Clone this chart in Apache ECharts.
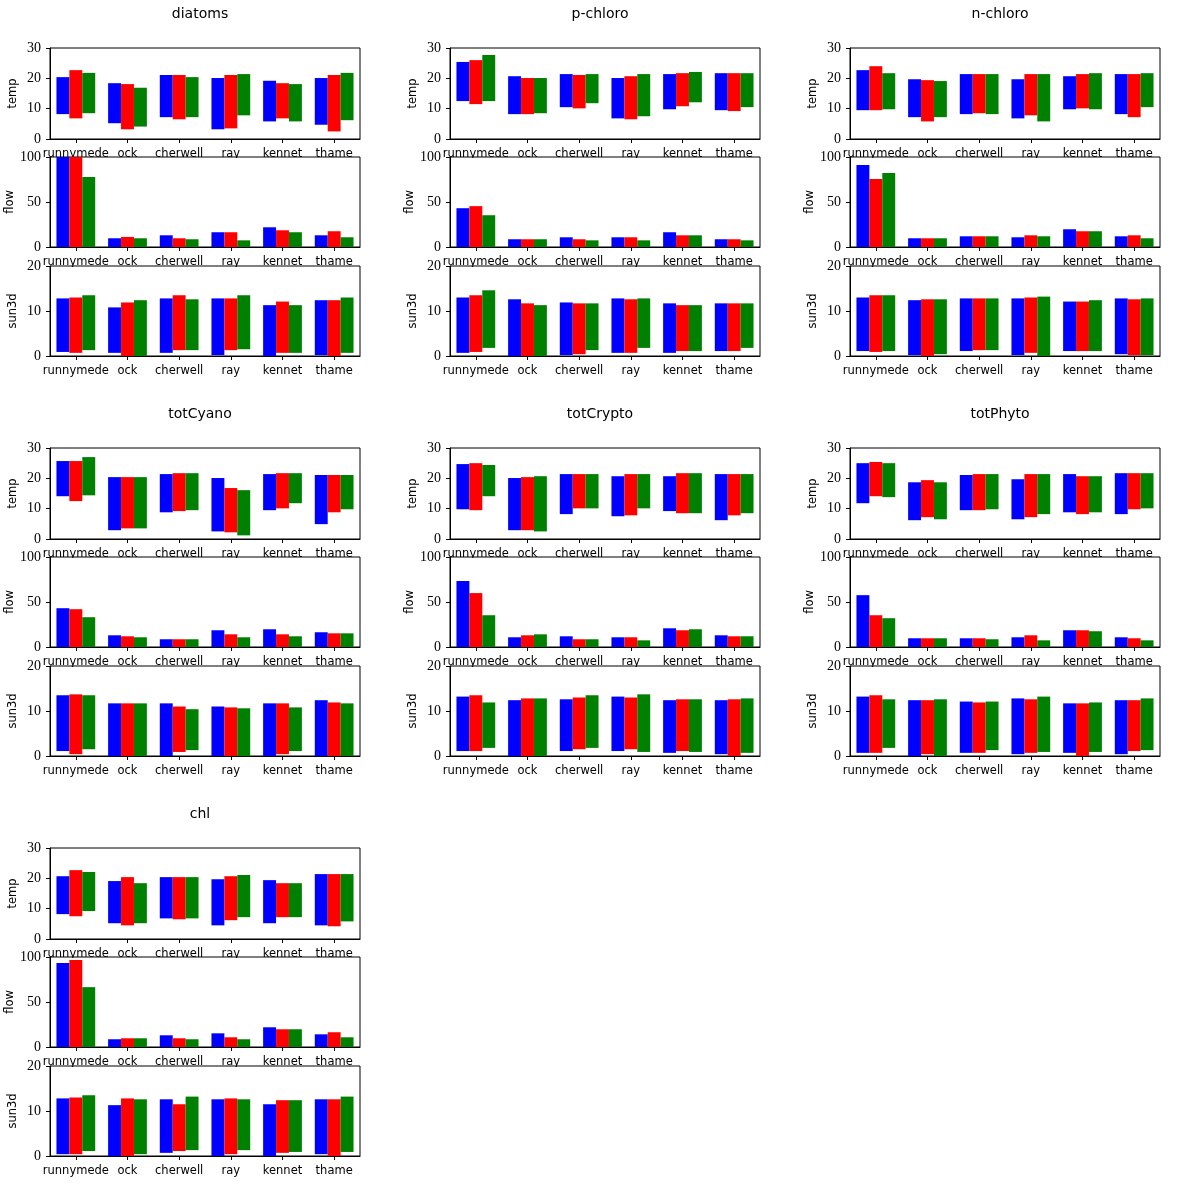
<!DOCTYPE html>
<html><head><meta charset="utf-8">
<script src="https://cdn.jsdelivr.net/npm/echarts@6/dist/echarts.min.js"></script>
<style>html,body{margin:0;padding:0;background:#fff}#c{width:1200px;height:1200px}</style>
</head><body><div id="c"></div>
<script>
const categories = ['runnymede', 'ock', 'cherwell', 'ray', 'kennet', 'thame'];
const seriesColors = ['#0000ff', '#ff0000', '#008000'];
const tempTicks = [0, 10, 20, 30];
const flowTicks = [0, 50, 100];
const sunTicks = [0, 10, 20];

// each array: [blue, red, green] over categories
const diatomsTempHigh = [[20.4,18.4,21.1,20.1,19.2,20.1],[22.7,18.1,21.1,21.1,18.4,21.1],[21.8,16.9,20.4,21.4,18.1,21.8]];
const diatomsTempLow  = [[8.2,5.2,7.2,3.2,5.8,4.7],[6.8,3.2,6.5,3.5,6.8,2.5],[8.5,4.1,7.2,7.8,5.8,6.2]];
const diatomsFlow     = [[100,9.7,13.0,16.4,21.9,13.0],[100,11.2,9.7,16.4,18.6,17.5],[77.7,9.7,8.6,7.4,16.4,10.8]];
const diatomsSunHigh  = [[12.8,10.8,12.8,12.8,11.3,12.4],[13.0,11.9,13.5,12.8,12.1,12.4],[13.5,12.4,12.6,13.5,11.3,13.0]];
const diatomsSunLow   = [[0.9,0.7,0.7,0.2,0,0.2],[0.7,0,1.3,1.3,0.7,0],[1.3,0,1.3,1.5,0.7,0.7]];

const pChloroTempHigh = [[25.4,20.7,21.4,20.1,21.4,21.7],[26.0,20.1,21.1,20.7,21.7,21.7],[27.7,20.1,21.4,21.4,22.1,21.7]];
const pChloroTempLow  = [[12.5,8.2,10.5,6.8,9.8,9.5],[11.5,8.2,10.1,6.5,10.8,9.2],[12.5,8.5,11.8,7.5,12.1,10.5]];
const pChloroFlow     = [[43.1,8.6,10.8,10.8,16.4,8.6],[45.4,8.6,8.6,10.8,13.0,8.6],[35.3,8.6,7.4,7.4,13.0,7.4]];
const pChloroSunHigh  = [[13.0,12.6,11.9,12.8,11.7,11.7],[13.5,11.7,11.7,12.6,11.3,11.7],[14.6,11.3,11.7,12.8,11.3,11.7]];
const pChloroSunLow   = [[0.7,0,0.2,0.7,0.7,1.1],[0.9,0,0.4,0.7,1.1,1.1],[1.8,0,1.3,1.8,1.1,1.8]];

const nChloroTempHigh = [[22.7,19.7,21.4,19.7,20.7,21.4],[24.0,19.4,21.4,21.4,21.4,21.4],[21.7,19.1,21.4,21.4,21.7,21.7]];
const nChloroTempLow  = [[9.5,7.2,8.2,6.8,9.8,8.2],[9.5,5.8,8.5,7.8,10.1,7.2],[9.8,7.2,8.2,5.8,9.8,10.5]];
const nChloroFlow     = [[91.1,9.7,11.9,10.8,19.7,11.9],[75.5,9.7,11.9,13.0,17.5,13.0],[82.2,9.7,11.9,11.9,17.5,9.7]];
const nChloroSunHigh  = [[13.0,12.4,12.8,12.8,12.1,12.8],[13.5,12.6,12.8,13.0,12.1,12.6],[13.5,12.6,12.8,13.2,12.4,12.8]];
const nChloroSunLow   = [[1.1,0.2,1.1,0.2,1.1,0.4],[0.9,0,1.3,0.7,1.1,0.2],[1.1,0.4,1.3,0,1.1,0.2]];

const totCyanoTempHigh = [[25.7,20.4,21.4,20.1,21.4,21.1],[25.7,20.4,21.7,16.8,21.7,21.1],[27.0,20.4,21.7,16.1,21.7,21.1]];
const totCyanoTempLow  = [[14.1,2.9,8.8,2.5,9.5,4.9],[12.5,3.5,9.2,2.2,10.1,8.8],[14.4,3.5,9.5,1.2,11.8,9.8]];
const totCyanoFlow     = [[43.1,13.0,8.6,18.6,19.7,16.4],[42.0,11.9,8.6,14.1,14.1,15.2],[33.1,10.8,8.6,10.8,11.9,15.2]];
const totCyanoSunHigh  = [[13.5,11.7,11.7,11.0,11.7,12.4],[13.7,11.7,11.0,10.8,11.7,11.9],[13.5,11.7,10.4,10.6,10.8,11.7]];
const totCyanoSunLow   = [[1.1,0,0,0,0,0],[0.4,0,0.9,0,0.4,0],[1.5,0,1.3,0,1.1,0]];

const totCryptoTempHigh = [[24.7,20.1,21.4,20.7,20.7,21.4],[25.0,20.4,21.4,21.4,21.7,21.4],[24.4,20.7,21.4,21.4,21.7,21.4]];
const totCryptoTempLow  = [[9.8,2.9,8.2,7.5,9.2,6.2],[9.5,2.9,10.1,7.8,8.5,7.8],[14.1,2.5,10.1,10.1,8.5,8.5]];
const totCryptoFlow     = [[73.2,10.8,11.9,10.8,20.8,13.0],[59.9,13.0,8.6,10.8,18.6,11.9],[35.3,14.1,8.6,7.4,19.7,11.9]];
const totCryptoSunHigh  = [[13.2,12.4,12.6,13.2,12.4,12.4],[13.5,12.8,13.0,13.0,12.6,12.6],[11.9,12.8,13.5,13.7,12.6,12.8]];
const totCryptoSunLow   = [[1.1,0,1.1,1.1,0.7,0.4],[1.1,0,1.5,1.5,1.1,0],[1.8,0,1.8,0.9,0.9,0.7]];

const totPhytoTempHigh = [[25.0,18.7,21.1,19.7,21.4,21.7],[25.4,19.4,21.4,21.4,20.7,21.7],[25.0,18.7,21.4,21.4,20.7,21.7]];
const totPhytoTempLow  = [[11.8,6.2,9.5,6.5,8.8,8.2],[14.1,7.2,9.5,7.2,8.2,9.8],[13.8,6.5,9.8,8.2,8.8,10.1]];
const totPhytoFlow     = [[57.6,9.7,9.7,10.8,18.6,10.8],[35.3,9.7,9.7,13.0,18.6,9.7],[32.0,9.7,8.6,7.4,17.5,7.4]];
const totPhytoSunHigh  = [[13.2,12.4,12.1,12.8,11.7,12.4],[13.5,12.4,11.9,12.6,11.7,12.4],[12.6,12.6,12.1,13.2,11.9,12.8]];
const totPhytoSunLow   = [[0.7,0,0.7,0.4,0.7,0.4],[0.7,0.4,0.7,0.7,0,1.1],[1.8,0,1.3,0.9,0.9,1.3]];

const chlTempHigh = [[20.7,19.1,20.4,19.7,19.4,21.4],[22.7,20.4,20.4,20.7,18.4,21.4],[22.1,18.4,20.4,21.1,18.4,21.4]];
const chlTempLow  = [[8.2,5.2,6.8,4.5,5.2,4.5],[7.5,4.5,6.5,6.2,7.2,4.2],[9.2,5.2,6.8,7.2,7.2,5.8]];
const chlFlow     = [[93.3,8.6,13.0,15.2,21.9,14.1],[96.7,9.7,9.7,10.8,19.7,16.4],[66.5,9.7,8.6,8.6,19.7,10.8]];
const chlSunHigh  = [[12.8,11.3,12.6,12.6,11.5,12.6],[13.0,12.8,11.5,12.8,12.4,12.6],[13.5,12.6,13.2,12.6,12.4,13.2]];
const chlSunLow   = [[0.4,0,0.7,0,0,0.4],[0.4,0,1.1,0.4,0.7,0],[1.1,0.4,1.3,1.3,0.9,0.9]];

const panelNames = ['diatoms', 'p-chloro', 'n-chloro', 'totCyano', 'totCrypto', 'totPhyto', 'chl'];
const zeroLow = [[0,0,0,0,0,0],[0,0,0,0,0,0],[0,0,0,0,0,0]];
const panelData = [
  [[diatomsTempLow, diatomsTempHigh], [zeroLow, diatomsFlow], [diatomsSunLow, diatomsSunHigh]],
  [[pChloroTempLow, pChloroTempHigh], [zeroLow, pChloroFlow], [pChloroSunLow, pChloroSunHigh]],
  [[nChloroTempLow, nChloroTempHigh], [zeroLow, nChloroFlow], [nChloroSunLow, nChloroSunHigh]],
  [[totCyanoTempLow, totCyanoTempHigh], [zeroLow, totCyanoFlow], [totCyanoSunLow, totCyanoSunHigh]],
  [[totCryptoTempLow, totCryptoTempHigh], [zeroLow, totCryptoFlow], [totCryptoSunLow, totCryptoSunHigh]],
  [[totPhytoTempLow, totPhytoTempHigh], [zeroLow, totPhytoFlow], [totPhytoSunLow, totPhytoSunHigh]],
  [[chlTempLow, chlTempHigh], [zeroLow, chlFlow], [chlSunLow, chlSunHigh]]
];

const rows = [
  {name: 'temp', ticks: tempTicks, top: 48, height: 91},
  {name: 'flow', ticks: flowTicks, top: 157, height: 90},
  {name: 'sun3d', ticks: sunTicks, top: 266, height: 90}
];

const SANS = 'DejaVu Sans';
const SERIF = "'Liberation Serif', serif";
const grid = [], xAxis = [], yAxis = [], series = [], elements = [];

panelNames.forEach((pname, p) => {
  const x0 = (p % 3) * 400, y0 = Math.floor(p / 3) * 400;
  const left = x0 + 50, width = 310;
  elements.push({
    type: 'text', x: x0 + 200, y: y0 + 14, z: 5,
    style: {text: pname, font: '14px "' + SANS + '"', fill: '#000', textAlign: 'center', textVerticalAlign: 'middle'}
  });
  rows.forEach((r, ri) => {
    const gi = grid.length;
    grid.push({left: left, top: y0 + r.top, width: width, height: r.height, show: true,
      borderColor: '#000', borderWidth: 1, backgroundColor: 'transparent', containLabel: false});
    xAxis.push({type: 'category', gridIndex: gi, data: categories, boundaryGap: true,
      axisLine: {show: true, lineStyle: {color: '#000', width: 1}},
      axisTick: {show: true, alignWithLabel: true, length: 4, lineStyle: {color: '#000'}},
      axisLabel: {show: true, interval: 0, margin: 9, color: '#000', fontFamily: SANS, fontSize: 11.5},
      splitLine: {show: false}});
    const tk = r.ticks;
    yAxis.push({type: 'value', gridIndex: gi, min: tk[0], max: tk[tk.length - 1], interval: tk[1] - tk[0],
      name: r.name, nameLocation: 'middle', nameGap: 31, nameRotate: 90,
      nameTextStyle: {color: '#000', fontFamily: SANS, fontSize: 11.5},
      axisLine: {show: true, lineStyle: {color: '#000', width: 1}},
      axisTick: {show: true, length: 4, lineStyle: {color: '#000'}},
      axisLabel: {show: true, margin: 9, color: '#000', fontFamily: SERIF, fontSize: 14},
      splitLine: {show: false}});
    const [low, high] = panelData[p][ri];
    seriesColors.forEach((c, k) => {
      const st = 'g' + gi + 's' + k;
      series.push({type: 'bar', xAxisIndex: gi, yAxisIndex: gi, stack: st, silent: true,
        barGap: '0%', barCategoryGap: '25%',
        itemStyle: {color: 'rgba(0,0,0,0)'}, data: low[k]});
      series.push({type: 'bar', xAxisIndex: gi, yAxisIndex: gi, stack: st, silent: true,
        barGap: '0%', barCategoryGap: '25%',
        itemStyle: {color: c}, data: high[k].map((h, i) => +(h - low[k][i]).toFixed(3))});
    });
    if (ri > 0) {
      elements.push({type: 'rect', z: 1, silent: true,
        shape: {x: left + 1, y: y0 + r.top + 1, width: width - 2, height: 9},
        style: {fill: '#fff'}});
    }
  });
});

const chart = echarts.init(document.getElementById('c'), null, {renderer: 'canvas'});
chart.setOption({
  animation: false,
  backgroundColor: '#fff',
  grid, xAxis, yAxis, series,
  graphic: {elements}
});
</script>
</body></html>
